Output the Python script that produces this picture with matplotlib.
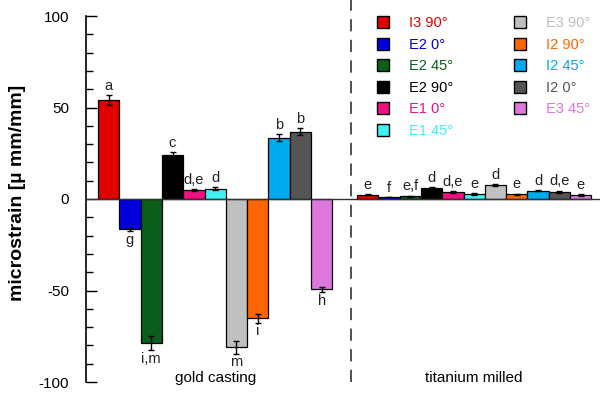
import numpy as np
import matplotlib
matplotlib.use("Agg")
import matplotlib.pyplot as plt
from matplotlib.lines import Line2D

plt.rcParams['font.family'] = ['Liberation Sans', 'DejaVu Sans']
plt.rcParams['axes.unicode_minus'] = False

# Данные
series = ['I3 90°', 'E2 0°', 'E2 45°', 'E2 90°', 'E1 0°', 'E1 45°',
          'E3 90°', 'I2 90°', 'I2 45°', 'I2 0°', 'E3 45°']
colors = ['#e20000', '#0000dd', '#0b5e1a', '#000000', '#f0107f', '#40f0f5',
          '#c0c0c0', '#ff6600', '#00aaee', '#555555', '#dd77dd']
groups = ['gold casting', 'titanium milled']

gold_vals = [54.0, -16.6, -78.9, 23.9, 4.7, 5.6, -81.0, -65.2, 33.5, 36.8, -49.4]
gold_err = [2.7, 1.0, 3.8, 2.0, 0.5, 0.7, 3.6, 2.6, 2.0, 2.0, 1.5]
gold_letters = ['a', 'g', 'i,m', 'c', 'd,e', 'd', 'm', 'i', 'b', 'b', 'h']

ti_vals = [2.4, 1.1, 1.6, 6.0, 3.6, 2.7, 7.5, 2.7, 4.6, 4.0, 2.4]
ti_err = [0.4, 0.2, 0.3, 0.4, 0.5, 0.5, 0.6, 0.3, 0.5, 0.6, 0.5]
ti_letters = ['e', 'f', 'e,f', 'd', 'd,e', 'e', 'd', 'e', 'd', 'd,e', 'e']

fig = plt.figure(figsize=(6.02, 3.93), dpi=100)
ax = fig.add_axes([86/602, 11/393, 514/602, 366/393])

n = len(series)
ti_start = 12.16
x_gold = np.arange(n)
x_ti = ti_start + np.arange(n)

def draw_group(xs, vals, errs, letters):
    ax.bar(xs, vals, width=1.0, align='edge', color=colors,
           edgecolor='black', linewidth=0.9, zorder=2)
    ax.errorbar(xs + 0.5, vals, yerr=errs, fmt='none', ecolor='black',
                elinewidth=1.0, capsize=2.2, capthick=1.0, zorder=3)
    for x, v, e, t in zip(xs, vals, errs, letters):
        if v >= 0:
            ax.annotate(t, (x + 0.5, v + e), xytext=(0, 1.5),
                        textcoords='offset points', ha='center', va='bottom',
                        fontsize=10.5, color='#222222')
        else:
            ax.annotate(t, (x + 0.5, v - e), xytext=(0, -1),
                        textcoords='offset points', ha='center', va='top',
                        fontsize=10.5, color='#222222')

draw_group(x_gold, gold_vals, gold_err, gold_letters)
draw_group(x_ti, ti_vals, ti_err, ti_letters)

ax.axhline(0, color='#333333', linewidth=1.0, zorder=4)
ax.axvline(11.88, ymin=0, ymax=1.045, color='#222222', linestyle=(0, (8, 5.5)),
           linewidth=1.1, clip_on=False)

ax.set_xlim(-12/21.3, (600 - 98)/21.3)
ax.set_ylim(-100, 100)
ax.set_yticks([-100, -50, 0, 50, 100])
ax.set_yticks(np.arange(-100, 101, 10), minor=True)
ax.tick_params(axis='y', which='major', direction='in', length=8, width=1,
               labelsize=11, pad=12)
ax.tick_params(axis='y', which='minor', direction='in', length=5, width=1)
ax.set_xticks([])
for s in ['top', 'right', 'bottom']:
    ax.spines[s].set_visible(False)
ax.spines['left'].set_linewidth(1.2)

ax.set_ylabel('microstrain [µ mm/mm]', fontsize=14, fontweight='bold')
ax.yaxis.set_label_coords(-0.116, 0.516)

# подписи групп
ax.text(x_gold[0] + n/2, -98, groups[0], ha='center', va='center', fontsize=11)
ax.text(x_ti[0] + n/2, -98, groups[1], ha='center', va='center', fontsize=11)

handles = [Line2D([], [], marker='s', linestyle='none', markersize=9,
                  markerfacecolor=c, markeredgecolor='black',
                  markeredgewidth=1.0) for c in colors]
leg = ax.legend(handles, series, ncol=2, frameon=False, fontsize=10.5,
                loc='upper left', bbox_to_anchor=(355/602, 1 - 3/393),
                bbox_transform=fig.transFigure, labelspacing=0.52,
                columnspacing=3.55, handletextpad=0.8, borderpad=0.4)
for txt, c in zip(leg.get_texts(), colors):
    txt.set_color(c)

fig.savefig('out.png', dpi=100)
